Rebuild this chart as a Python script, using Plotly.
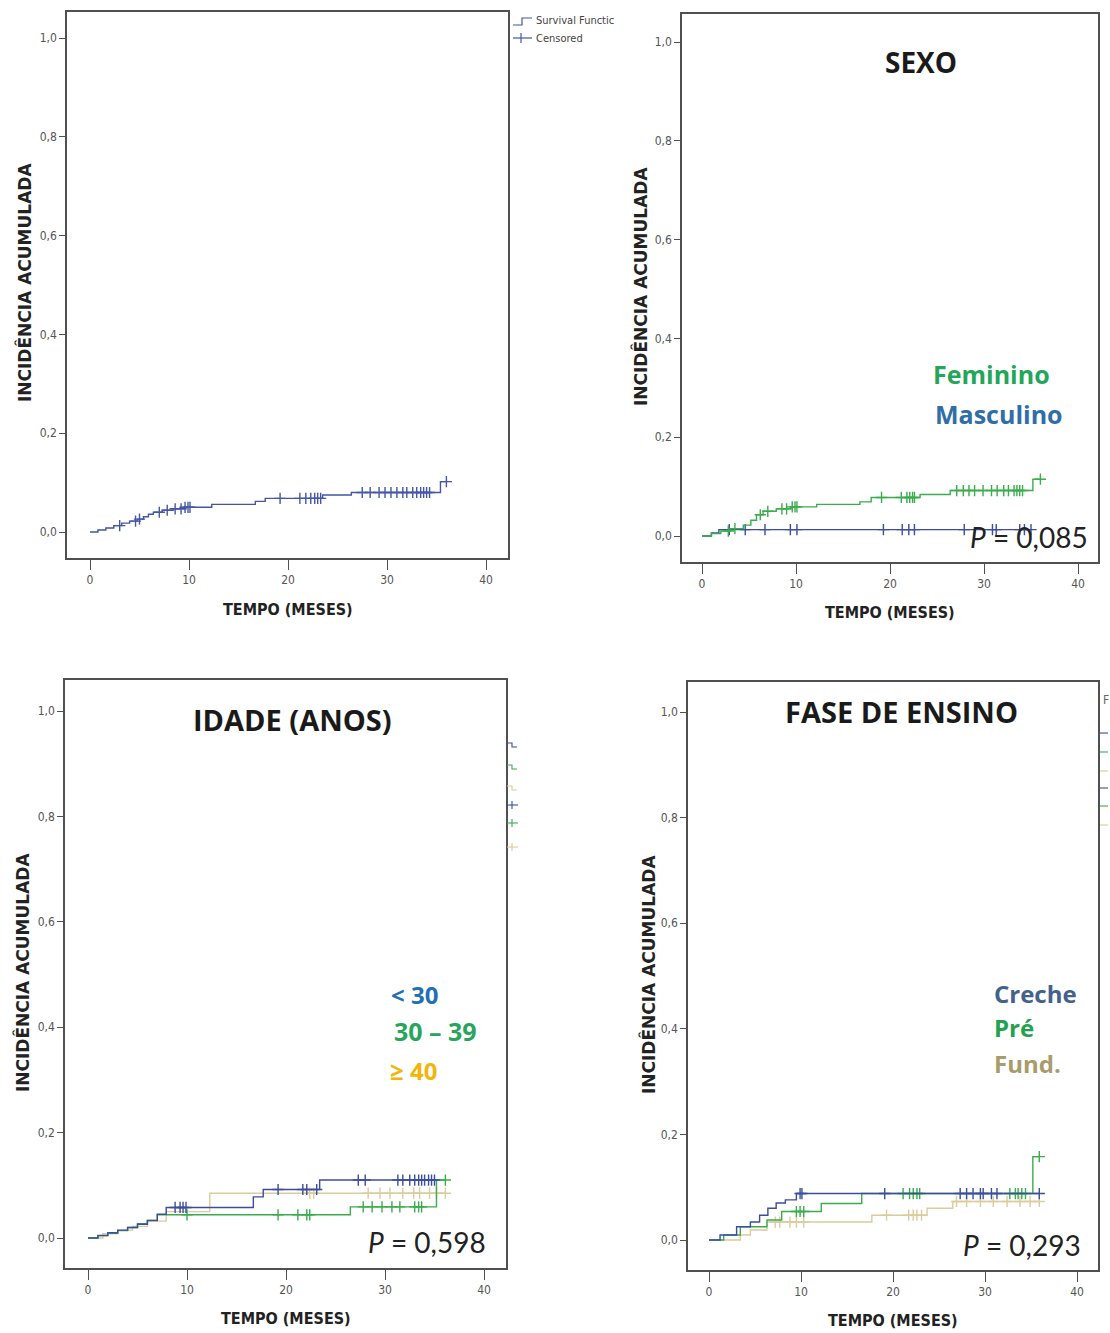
import numpy as np
import plotly.graph_objects as go

W, H = 1110, 1333

# ---------------- data ----------------
# Panel A: whole cohort
all_t = [0, 0.8, 1.6, 2.4, 3.2, 4.0, 4.8, 5.4, 5.9, 6.4, 7.3, 8.4, 9.6, 12.3, 16.7, 17.7, 23.5, 26.4, 35.4]
all_v = [0, 0.004, 0.008, 0.013, 0.018, 0.022, 0.026, 0.031, 0.036, 0.040, 0.044, 0.047, 0.050, 0.056, 0.062, 0.068, 0.075, 0.080, 0.102]
all_cens = [3.0, 4.6, 5.0, 7.0, 7.8, 8.6, 9.2, 9.6, 9.9, 10.1, 19.2, 21.2, 21.8, 22.3, 22.7, 23.0, 23.3,
            27.5, 28.3, 29.2, 29.8, 30.4, 31.0, 31.6, 32.0, 32.6, 33.0, 33.4, 33.7, 34.0, 34.3, 36.0]

# Panel B: sex
fem_t = [0, 1.0, 2.0, 3.0, 4.4, 5.2, 5.8, 6.5, 7.9, 9.4, 12.2, 16.8, 18.0, 23.2, 26.4, 35.2]
fem_v = [0, 0.005, 0.010, 0.015, 0.022, 0.032, 0.043, 0.050, 0.055, 0.059, 0.064, 0.069, 0.078, 0.084, 0.092, 0.115]
fem_cens = [2.8, 3.5, 6.2, 7.0, 8.5, 9.0, 9.6, 9.9, 10.1, 19.1, 21.2, 21.8, 22.1, 22.4, 22.6, 27.1, 27.8,
            28.4, 29.0, 29.9, 30.8, 31.4, 32.1, 32.6, 33.2, 33.5, 33.8, 34.1, 36.0]
mas_t = [0, 1.0, 1.8]
mas_v = [0, 0.006, 0.013]
mas_cens = [2.9, 4.6, 6.7, 9.4, 10.1, 19.3, 21.3, 22.0, 22.6, 27.9, 30.9, 31.3, 33.8, 34.3, 35.0]

# Panel C: age group
a30_t = [0, 1, 2, 3, 4, 5, 6, 7, 7.9, 16.7, 17.7, 23.4]
a30_v = [0, 0.005, 0.010, 0.015, 0.020, 0.026, 0.033, 0.045, 0.058, 0.078, 0.092, 0.110]
a30_cens = [8.8, 9.3, 9.6, 9.9, 19.2, 21.7, 22.1, 23.1, 27.3, 28.0, 31.3, 31.8, 32.5, 33.0, 33.4, 33.7, 34.0, 34.4, 34.7, 35.0]
a3039_t = [0, 1, 2, 3, 4, 5, 6, 7, 26.5, 35.2]
a3039_v = [0, 0.004, 0.009, 0.014, 0.020, 0.027, 0.034, 0.044, 0.059, 0.110]
a3039_cens = [10.0, 19.2, 21.2, 22.1, 22.4, 27.8, 28.7, 29.7, 30.7, 31.5, 33.0, 33.4, 33.7, 36.1]
a40_t = [0, 1.5, 3, 4.5, 6, 7.9, 12.3]
a40_v = [0, 0.008, 0.015, 0.022, 0.032, 0.050, 0.085]
a40_cens = [22.4, 22.8, 28.3, 29.5, 30.5, 31.8, 32.9, 33.5, 34.5, 35.2, 36.1]

# Panel D: teaching stage
cre_t = [0, 1.2, 3.0, 4.5, 5.5, 6.4, 7.3, 8.3, 9.5]
cre_v = [0, 0.0095, 0.025, 0.034, 0.047, 0.060, 0.070, 0.076, 0.088]
cre_cens = [9.9, 10.1, 19.1, 27.3, 28.0, 28.7, 29.5, 29.8, 30.7, 31.3, 35.9]
pre_t = [0, 1.6, 3.4, 6.3, 7.9, 12.2, 16.6, 35.2]
pre_v = [0, 0.0095, 0.025, 0.038, 0.054, 0.069, 0.088, 0.158]
pre_cens = [9.5, 9.9, 10.3, 21.1, 21.8, 22.2, 22.6, 22.9, 32.7, 33.3, 33.6, 34.0, 34.4, 35.9]
fun_t = [0, 3.4, 4.5, 6.3, 17.7, 23.7, 26.5]
fun_v = [0, 0.0095, 0.019, 0.034, 0.047, 0.060, 0.073]
fun_cens = [7.2, 7.7, 8.8, 9.5, 10.3, 19.3, 21.7, 22.2, 22.6, 23.1, 26.9, 28.0, 29.5, 30.9, 32.4, 33.8, 34.9, 35.9]

x_ticks = [0, 10, 20, 30, 40]
y_ticks = [0.0, 0.2, 0.4, 0.6, 0.8, 1.0]

BLUE = "#3c4d9e"
GREEN = "#3aac4c"
TAN = "#dccb9c"

NARROW = "Liberation Sans Narrow, DejaVu Sans Condensed, Arial Narrow, Liberation Sans, sans-serif"
HEAD = "Open Sans, Lato, sans-serif"
CAL = "Lato, Open Sans, sans-serif"


def px(x):
    return x / W


def py(y):
    return 1 - y / H


def km_traces(times, vals, cens, color, xa, ya):
    """Step curve plus censor '+' marks for one group."""
    t_end = max(max(cens), times[-1])
    xs = list(times) + [t_end]
    ys = list(vals) + [vals[-1]]
    idx = np.searchsorted(np.array(times), np.array(cens), side="right") - 1
    cy = [vals[i] for i in idx]
    line = go.Scatter(x=xs, y=ys, mode="lines", line=dict(color=color, width=1.4, shape="hv"),
                      xaxis=xa, yaxis=ya, showlegend=False, hoverinfo="skip")
    marks = go.Scatter(x=cens, y=cy, mode="markers",
                       marker=dict(symbol="cross-thin", size=8, line=dict(color=color, width=1.4)),
                       xaxis=xa, yaxis=ya, showlegend=False, hoverinfo="skip")
    return [line, marks]


fig = go.Figure()

panels = [
    # (axis suffix, frame px box [l, t, r, b], x0px, x40px, y0px, y1px, groups)
    ("", (67, 12, 508, 558), 90, 486, 532, 38,
     [(all_t, all_v, all_cens, "#4656a6")]),
    ("2", (682, 14, 1098, 562), 702, 1078, 536, 42,
     [(mas_t, mas_v, mas_cens, BLUE), (fem_t, fem_v, fem_cens, GREEN)]),
    ("3", (65, 680, 506, 1268), 88, 484, 1238, 711,
     [(a40_t, a40_v, a40_cens, TAN), (a3039_t, a3039_v, a3039_cens, GREEN), (a30_t, a30_v, a30_cens, BLUE)]),
    ("4", (688, 682, 1098, 1270), 709, 1077, 1240, 712,
     [(fun_t, fun_v, fun_cens, TAN), (pre_t, pre_v, pre_cens, GREEN), (cre_t, cre_v, cre_cens, BLUE)]),
]

layout_axes = {}
for suf, (l, t, r, b), x0p, x40p, y0p, y1p, groups in panels:
    xa, ya = "x" + suf, "y" + suf
    for g in groups:
        for tr in km_traces(*g, xa, ya):
            fig.add_trace(tr)
    sx = (x40p - x0p) / 40.0
    sy = (y0p - y1p) / 1.0
    xr = [(l - x0p) / sx, (r - x0p) / sx]
    yr = [(y0p - b) / sy, (y0p - t) / sy]
    common = dict(showline=True, mirror=True, linecolor="#505050", linewidth=1.5,
                  showgrid=False, zeroline=False, ticks="outside", tickcolor="#505050",
                  tickwidth=1.2, tickfont=dict(family=NARROW, size=12, color="#555555"))
    layout_axes["xaxis" + suf] = dict(domain=[px(l), px(r)], range=xr, tickvals=x_ticks,
                                      ticklen=10, anchor=ya, **common)
    layout_axes["yaxis" + suf] = dict(domain=[py(b), py(t)], range=yr, tickvals=y_ticks,
                                      tickformat=".1f", ticklen=6, anchor=xa, **common)

fig.update_layout(**layout_axes)

ann = []


def text(x, y, s, size, color="#1a1a1a", family=HEAD, angle=0, xanchor="center"):
    ann.append(dict(x=px(x), y=py(y), xref="paper", yref="paper", text=s, showarrow=False,
                    font=dict(family=family, size=size, color=color), textangle=angle,
                    xanchor=xanchor, yanchor="middle"))


# axis titles
for (xc, yc) in [(288, 609), (890, 612), (286, 1318), (893, 1320)]:
    text(xc, yc, "<b>TEMPO (MESES)</b>", 16, "#222222", NARROW)
for (xc, yc) in [(24, 283), (640, 287), (22, 973), (648, 975)]:
    text(xc, yc, "<b>INCIDÊNCIA ACUMULADA</b>", 17, "#222222", "DejaVu Sans", -90)

# panel titles
text(921, 62, "<b>SEXO</b>", 28)
text(292, 719, "<b>IDADE (ANOS)</b>", 29)
text(901, 712, "<b>FASE DE ENSINO</b>", 29)

# group labels
text(931, 374, "<b>Feminino</b>", 25, "#23a659", xanchor="left")
text(933, 414, "<b>Masculino</b>", 25, "#2f6ea8", xanchor="left")
text(389, 994, "<b>&lt; 30</b>", 24, "#2270b4", xanchor="left")
text(392, 1031, "<b>30 – 39</b>", 25, "#27a55c", xanchor="left")
text(388, 1070, "<b>≥ 40</b>", 24, "#f2b50a", xanchor="left")
text(992, 993, "<b>Creche</b>", 24, "#43618a", xanchor="left")
text(992, 1027, "<b>Pré</b>", 24, "#22a24e", xanchor="left")
text(992, 1063, "<b>Fund.</b>", 24, "#a89b6c", xanchor="left")

# p-values
text(1090, 537, "<i>P</i> = 0,085", 28, "#222222", CAL, xanchor="right")
text(488, 1242, "<i>P</i> = 0,598", 28, "#222222", CAL, xanchor="right")
text(1083, 1245, "<i>P</i> = 0,293", 28, "#222222", CAL, xanchor="right")

# legend of the first panel
text(534, 21, "Survival Functic", 11, "#444444", NARROW, xanchor="left")
text(534, 38, "Censored", 11, "#444444", NARROW, xanchor="left")
text(1101, 700, "F", 12, "#666666", NARROW, xanchor="left")

shapes = []


def seg(pts, color, width=1.2):
    path = "M " + " L ".join(f"{px(a):.5f},{py(b):.5f}" for a, b in pts)
    shapes.append(dict(type="path", path=path, xref="paper", yref="paper",
                       line=dict(color=color, width=width)))


seg([(513, 25), (522, 25), (522, 18), (532, 18)], "#4656a6")
seg([(513, 38), (532, 38)], "#4656a6")
seg([(521, 33), (521, 43)], "#4656a6")

# clipped legend keys beside the lower panels
for yk, col in [(747, BLUE), (769, GREEN), (790, TAN)]:
    seg([(507, yk - 4), (512, yk - 4), (512, yk), (517, yk)], col, 1.1)
for yk, col in [(805, BLUE), (823, GREEN), (847, TAN)]:
    seg([(507, yk), (518, yk)], col, 1.1)
    seg([(512, yk - 4), (512, yk + 4)], col, 1.1)
for yk, col in [(733, BLUE), (752, GREEN), (771, TAN), (788, BLUE), (806, GREEN), (825, TAN)]:
    seg([(1100, yk), (1108, yk)], col, 1.1)

fig.update_layout(
    width=W, height=H, margin=dict(l=0, r=0, t=0, b=0),
    paper_bgcolor="white", plot_bgcolor="white",
    separators=",.", showlegend=False,
    annotations=ann, shapes=shapes,
)

fig.write_html("out.html")
